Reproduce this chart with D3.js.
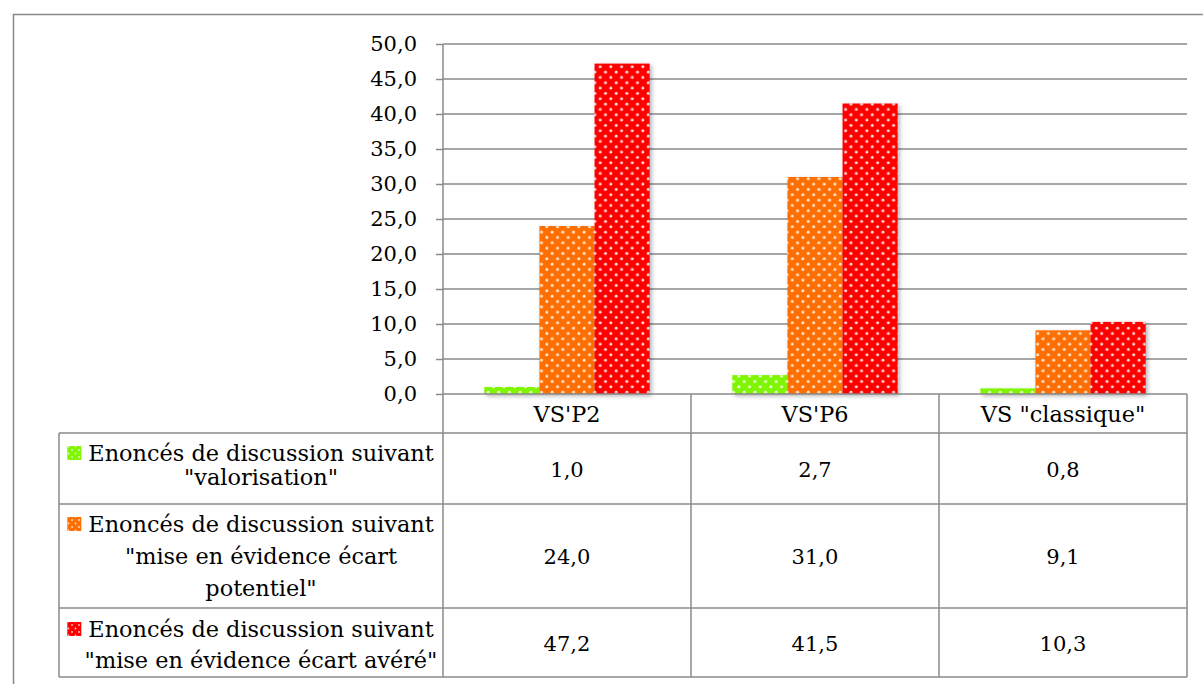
<!DOCTYPE html>
<html><head><meta charset="utf-8">
<script src="https://cdn.jsdelivr.net/npm/d3@7"></script>
<style>html,body{margin:0;padding:0;background:#fff;}svg{display:block;}</style>
</head><body>
<svg id="chart" width="1203" height="684"></svg>
<script>
const categories = ["VS'P2", "VS'P6", 'VS "classique"'];
const seriesKeys = ["valorisation", "potentiel", "avere"];
const seriesLabels = [
  ["Enoncés de discussion suivant", "\"valorisation\""],
  ["Enoncés de discussion suivant", "\"mise en évidence écart", "potentiel\""],
  ["Enoncés de discussion suivant", "\"mise en évidence écart avéré\""]
];
const valorisation = [1.0, 2.7, 0.8];
const ecartPotentiel = [24.0, 31.0, 9.1];
const ecartAvere = [47.2, 41.5, 10.3];
const seriesColors = ["#80f500", "#ff6e00", "#ff0000"];
const yTickValues = [0, 5, 10, 15, 20, 25, 30, 35, 40, 45, 50];

const seriesValues = [valorisation, ecartPotentiel, ecartAvere];
const FONT = "'DejaVu Serif', serif";
const FS = 21;      // numbers
const FSL = 22.4;   // labels
const GRID = "#8a8a8a";

const svg = d3.select("#chart");
const locale = d3.formatLocale({decimal: ",", thousands: " ", grouping: [3], currency: ["", "€"]});
const fmt = locale.format(".1f");

// geometry
const plotLeft = 443, plotRight = 1187, plotTop = 44, plotBottom = 394;
const tableLeft = 59;
const rowEdges = [394, 433, 504, 608, 677];
const labelBaselines = [[461, 485], [532, 564, 596], [637, 668]];

const x = d3.scaleBand().domain(categories).range([plotLeft, plotRight]);
const xs = d3.scaleBand().domain(seriesKeys).range([0, x.bandwidth()]).paddingOuter(0.75);
const y = d3.scaleLinear().domain([0, 50]).range([plotBottom, plotTop]);

// defs: patterns and shadow
const defs = svg.append("defs");
seriesKeys.forEach((k, i) => {
  const p = defs.append("pattern").attr("id", "pat-" + k)
    .attr("patternUnits", "userSpaceOnUse").attr("width", 10.67).attr("height", 10.67);
  p.append("rect").attr("width", 10.67).attr("height", 10.67).attr("fill", seriesColors[i]);
  p.append("circle").attr("cx", 2.7).attr("cy", 2.7).attr("r", 1.5).attr("fill", "#fff").attr("opacity", 0.85);
  p.append("circle").attr("cx", 8.0).attr("cy", 8.0).attr("r", 1.5).attr("fill", "#fff").attr("opacity", 0.85);
  const pk = defs.append("pattern").attr("id", "patk-" + k)
    .attr("patternUnits", "userSpaceOnUse").attr("width", 7).attr("height", 7);
  pk.append("rect").attr("width", 7).attr("height", 7).attr("fill", seriesColors[i]);
  pk.append("circle").attr("cx", 2).attr("cy", 2).attr("r", 0.9).attr("fill", "#fff").attr("opacity", 0.8);
  pk.append("circle").attr("cx", 5.5).attr("cy", 5.5).attr("r", 0.9).attr("fill", "#fff").attr("opacity", 0.8);
});
const f = defs.append("filter").attr("id", "shadow").attr("x", "-20%").attr("y", "-20%").attr("width", "150%").attr("height", "150%");
f.append("feDropShadow").attr("dx", 2).attr("dy", 2).attr("stdDeviation", 2).attr("flood-color", "#000").attr("flood-opacity", 0.3);

// outer frame
svg.append("path").attr("d", "M13.5,684 V14.5 H1203").attr("fill", "none").attr("stroke", GRID).attr("stroke-width", 1.5);

// gridlines
svg.append("g").selectAll("line").data(yTickValues.filter(v => v > 0)).join("line")
  .attr("x1", plotLeft).attr("x2", plotRight)
  .attr("y1", d => y(d)).attr("y2", d => y(d))
  .attr("stroke", GRID).attr("stroke-width", 1.5);

// y axis
const yAxis = d3.axisLeft(y).tickValues(yTickValues).tickFormat(fmt).tickSize(7).tickPadding(19);
const ga = svg.append("g").attr("transform", `translate(${plotLeft},0)`).call(yAxis);
ga.select(".domain").remove();
ga.selectAll(".tick line").attr("stroke", GRID).attr("stroke-width", 1.5);
ga.selectAll(".tick text").attr("font-family", FONT).attr("font-size", FS).attr("fill", "#000");
svg.append("line").attr("x1", plotLeft).attr("x2", plotLeft).attr("y1", plotTop).attr("y2", rowEdges[4])
  .attr("stroke", GRID).attr("stroke-width", 1.5);

// bars
const data = [];
categories.forEach((c, ci) => seriesKeys.forEach((k, si) => data.push({c, k, v: seriesValues[si][ci]})));
svg.append("g").attr("filter", "url(#shadow)").selectAll("rect").data(data).join("rect")
  .attr("x", d => x(d.c) + xs(d.k))
  .attr("width", xs.bandwidth())
  .attr("y", d => y(d.v))
  .attr("height", d => y(0) - y(d.v))
  .attr("fill", d => "url(#pat-" + d.k + ")");

// table lines
const tl = svg.append("g").attr("stroke", GRID).attr("stroke-width", 1.5).attr("fill", "none");
rowEdges.slice(1).forEach(yy => {
  tl.append("line").attr("x1", tableLeft).attr("x2", plotRight).attr("y1", yy).attr("y2", yy);
});
tl.append("line").attr("x1", plotLeft).attr("x2", plotRight).attr("y1", plotBottom).attr("y2", plotBottom);
categories.forEach(c => {
  tl.append("line").attr("x1", x(c) + x.bandwidth()).attr("x2", x(c) + x.bandwidth())
    .attr("y1", plotBottom).attr("y2", rowEdges[4]);
});
tl.append("line").attr("x1", tableLeft).attr("x2", tableLeft).attr("y1", rowEdges[1]).attr("y2", rowEdges[4]);

// header labels
svg.append("g").selectAll("text").data(categories).join("text")
  .attr("x", d => x(d) + x.bandwidth() / 2)
  .attr("y", 422)
  .attr("text-anchor", "middle").attr("font-family", FONT).attr("font-size", FSL).attr("fill", "#000")
  .text(d => d);

// value cells
seriesKeys.forEach((k, si) => {
  const cy = (rowEdges[si + 1] + rowEdges[si + 2]) / 2;
  svg.append("g").selectAll("text").data(categories).join("text")
    .attr("x", d => x(d) + x.bandwidth() / 2)
    .attr("y", cy).attr("dy", "0.4em")
    .attr("text-anchor", "middle").attr("font-family", FONT).attr("font-size", FS).attr("fill", "#000")
    .text((d, ci) => fmt(seriesValues[si][ci]));
});

// legend cells
const labelCx = 261;
seriesKeys.forEach((k, si) => {
  const lines = seriesLabels[si];
  lines.forEach((ln, li) => {
    const by = labelBaselines[si][li];
    const t = svg.append("text")
      .attr("x", labelCx).attr("y", by)
      .attr("text-anchor", "middle").attr("font-family", FONT).attr("font-size", FSL).attr("fill", "#000")
      .text(ln);
    if (li === 0) {
      const w = t.node().getComputedTextLength();
      const start = labelCx - w / 2;
      svg.append("rect").attr("x", start - 21).attr("y", by - 15).attr("width", 14).attr("height", 14)
        .attr("fill", "url(#patk-" + k + ")");
    }
  });
});
</script>
</body></html>
